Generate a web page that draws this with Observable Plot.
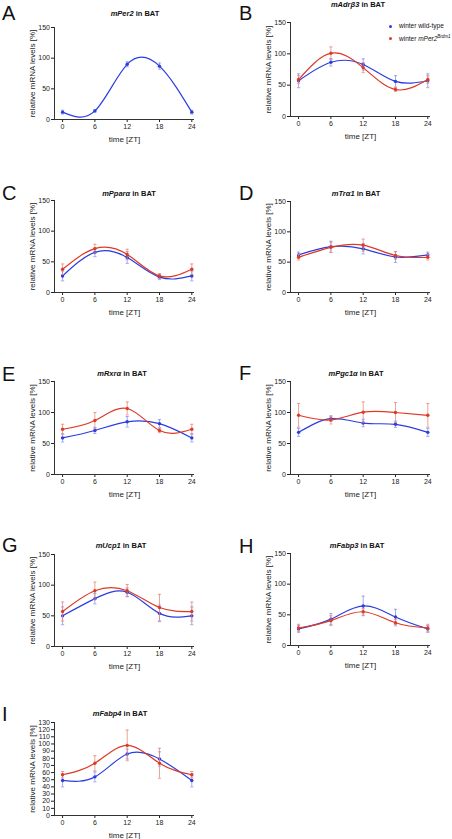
<!DOCTYPE html>
<html><head><meta charset="utf-8">
<script src="https://cdn.jsdelivr.net/npm/d3@7"></script>
<script src="https://cdn.jsdelivr.net/npm/@observablehq/plot@0.6"></script>
<style>
body{margin:0;background:#fff;}
#root{position:relative;width:452px;height:839px;overflow:hidden;font-family:"Liberation Sans",Arial,sans-serif;color:#111;}
.panel{position:absolute;}
.panel svg{overflow:visible;}
.panel svg g[aria-label="x-axis label"], .panel svg g[aria-label="y-axis label"]{font-size:8px;}
.txt{position:absolute;line-height:1;white-space:nowrap;}
.letter{font-size:20px;}
.title{font-size:7.5px;font-weight:bold;transform:translateX(-50%);}
.leg{font-size:6.5px;}
.dotk{position:absolute;width:3.4px;height:3.4px;border-radius:50%;}
</style></head>
<body><div id="root"></div>
<script>
// ---- data ----
const zt = [0, 6, 12, 18, 24];
const seriesNames = ["winter wild-type", "winter mPer2Brdm1"];
const genes = ["mPer2", "mAdrβ3", "mPparα", "mTrα1", "mRxrα", "mPgc1α", "mUcp1", "mFabp3", "mFabp4"];
const letters = ["A", "B", "C", "D", "E", "F", "G", "H", "I"];

const per2Wt = [12, 14, 90, 87, 12];
const per2WtSem = [3, 2, 4, 5, 3];

const adrb3Wt = [57, 86.5, 83, 56, 57];
const adrb3WtSem = [11, 6, 9, 9, 11];
const adrb3Mut = [59, 101, 78, 43, 59];
const adrb3MutSem = [6, 10, 8, 3, 6];

const pparaWt = [27, 65.5, 57, 25, 27];
const pparaWtSem = [8, 7, 9.5, 4, 8];
const pparaMut = [38, 71.5, 62, 27, 38];
const pparaMutSem = [8.5, 7, 8.5, 4, 8.5];

const tra1Wt = [62, 75.5, 72, 58.5, 62];
const tra1WtSem = [4.5, 9, 8.5, 9, 4.5];
const tra1Mut = [58, 74.5, 78, 61, 58];
const tra1MutSem = [4.5, 8.5, 10, 6, 4.5];

const rxraWt = [59, 71, 85, 82, 59];
const rxraWtSem = [6.5, 5, 8.5, 6.5, 6.5];
const rxraMut = [73, 87, 106.5, 71, 73];
const rxraMutSem = [8, 13, 10.5, 3.5, 8];

const pgc1aWt = [68, 90, 83, 81, 68];
const pgc1aWtSem = [6.5, 4, 6, 5, 6.5];
const pgc1aMut = [95.5, 88, 100.5, 100, 95.5];
const pgc1aMutSem = [19, 6.5, 16.5, 16, 19];

const ucp1Wt = [50, 78, 88.5, 54, 50];
const ucp1WtSem = [14.5, 8.5, 7, 13.5, 14.5];
const ucp1Mut = [57, 91, 91, 63.5, 57];
const ucp1MutSem = [15.5, 14, 10, 21.5, 15.5];

const fabp3Wt = [27, 43, 64.5, 46.5, 27];
const fabp3WtSem = [5.5, 9, 16, 12.5, 5.5];
const fabp3Mut = [28.5, 40.5, 55, 37, 28.5];
const fabp3MutSem = [6, 8, 5.5, 5, 6];

const fabp4Wt = [49, 54, 86, 79, 49];
const fabp4WtSem = [9, 7, 7, 10, 9];
const fabp4Mut = [57, 73, 98, 73, 57];
const fabp4MutSem = [4.5, 10.5, 21.5, 21, 4.5];

const yTicks150 = [0, 50, 100, 150];
const yTicks130 = [0, 10, 20, 30, 40, 50, 60, 70, 80, 90, 100, 110, 120, 130];
const xTicks = [0, 6, 12, 18, 24];

const panelData = [
  {wt: per2Wt, wtSem: per2WtSem},
  {wt: adrb3Wt, wtSem: adrb3WtSem, mut: adrb3Mut, mutSem: adrb3MutSem},
  {wt: pparaWt, wtSem: pparaWtSem, mut: pparaMut, mutSem: pparaMutSem},
  {wt: tra1Wt, wtSem: tra1WtSem, mut: tra1Mut, mutSem: tra1MutSem},
  {wt: rxraWt, wtSem: rxraWtSem, mut: rxraMut, mutSem: rxraMutSem},
  {wt: pgc1aWt, wtSem: pgc1aWtSem, mut: pgc1aMut, mutSem: pgc1aMutSem},
  {wt: ucp1Wt, wtSem: ucp1WtSem, mut: ucp1Mut, mutSem: ucp1MutSem},
  {wt: fabp3Wt, wtSem: fabp3WtSem, mut: fabp3Mut, mutSem: fabp3MutSem},
  {wt: fabp4Wt, wtSem: fabp4WtSem, mut: fabp4Mut, mutSem: fabp4MutSem, ymax: 130, yticks: yTicks130}
];

// ---- layout (pixels) ----
const colL = [0, 226];
const colMargins = [{ml: 54, mr: 32}, {ml: 64, mr: 22}];
const layout = [
  {col: 0, yTop: 27, yBot: 119, titleX: 135, titleY: 16.7, letterY: 20},
  {col: 1, yTop: 22, yBot: 116, titleX: 358, titleY: 7, letterY: 20},
  {col: 0, yTop: 200, yBot: 292, titleX: 129, titleY: 196.7, letterY: 200},
  {col: 1, yTop: 201, yBot: 292, titleX: 356, titleY: 196.7, letterY: 200},
  {col: 0, yTop: 381, yBot: 474, titleX: 122, titleY: 376.7, letterY: 381},
  {col: 1, yTop: 381, yBot: 474, titleX: 356, titleY: 376.7, letterY: 380},
  {col: 0, yTop: 554, yBot: 646, titleX: 121, titleY: 548.7, letterY: 552},
  {col: 1, yTop: 553, yBot: 645, titleX: 357, titleY: 548.7, letterY: 553},
  {col: 0, yTop: 722, yBot: 815, titleX: 120, titleY: 716.7, letterY: 721}
];
const letterX = [2, 239];
const blue = "#2b3de0", red = "#de3a26";
const blueErr = "#8593ee", redErr = "#e98b7c";
const mt = 8, mb = 28;
const xDomain = [-1.5, 24.5];

const capSymbol = {draw(ctx, size) { const w = Math.sqrt(size / Math.PI); ctx.moveTo(-w, 0); ctx.lineTo(w, 0); }};

const root = document.getElementById("root");

function addText(cls, html, left, baseline, fs) {
  const d = document.createElement("div");
  d.className = "txt " + cls;
  d.innerHTML = html;
  d.style.left = left + "px";
  d.style.top = (baseline - 0.8465 * fs) + "px";
  root.appendChild(d);
  return d;
}

function rowsFor(vals, sems, name) {
  return zt.map((t, i) => ({t, v: vals[i], lo: vals[i] - sems[i], hi: vals[i] + sems[i], s: name}));
}

function seriesMarks(rows, color, ecolor) {
  return [
    Plot.ruleX(rows, {x: "t", y1: "lo", y2: "hi", stroke: ecolor, strokeWidth: 0.8}),
    Plot.dot(rows, {x: "t", y: "lo", symbol: capSymbol, r: 1.6, stroke: ecolor, strokeWidth: 0.8, fill: "none"}),
    Plot.dot(rows, {x: "t", y: "hi", symbol: capSymbol, r: 1.6, stroke: ecolor, strokeWidth: 0.8, fill: "none"}),
    Plot.line(rows, {x: "t", y: "v", curve: "natural", stroke: color, strokeWidth: 1.2}),
    Plot.dot(rows, {x: "t", y: "v", r: 1.7, fill: color, stroke: "none"})
  ];
}

panelData.forEach((pd, k) => {
  const L = layout[k];
  const cm = colMargins[L.col];
  const ymax = pd.ymax || 150;
  const yticks = pd.yticks || yTicks150;
  const h = (L.yBot - L.yTop) + mt + mb;
  const marks = [
    Plot.ruleY([0], {stroke: "#333", strokeWidth: 1}),
    Plot.ruleX([xDomain[0]], {stroke: "#333", strokeWidth: 1}),
    ...seriesMarks(rowsFor(pd.wt, pd.wtSem, seriesNames[0]), blue, blueErr)
  ];
  if (pd.mut) marks.push(...seriesMarks(rowsFor(pd.mut, pd.mutSem, seriesNames[1]), red, redErr));
  const svg = Plot.plot({
    width: 226, height: h,
    marginLeft: cm.ml, marginRight: cm.mr, marginTop: mt, marginBottom: mb,
    style: {fontFamily: '"Liberation Sans", Arial, sans-serif', fontSize: "7px", background: "transparent", color: "#222", overflow: "visible"},
    x: {domain: xDomain, ticks: xTicks, tickSize: 3, tickPadding: 2, label: "time [ZT]", labelAnchor: "center", labelOffset: 22, labelArrow: "none"},
    y: {domain: [0, ymax], ticks: yticks, tickSize: 3, tickPadding: 1.5, label: "relative mRNA levels [%]", labelAnchor: "center", labelOffset: 25, labelArrow: "none"},
    marks
  });
  const div = document.createElement("div");
  div.className = "panel";
  div.style.left = colL[L.col] + "px";
  div.style.top = (L.yTop - mt) + "px";
  div.appendChild(svg);
  root.appendChild(div);

  addText("letter", letters[k], letterX[L.col], L.letterY, 20);
  addText("title", `<i>${genes[k]}</i> in BAT`, L.titleX, L.titleY, 7.5);
});

// legend (panel B)
const legItems = [
  {color: blue, html: "winter wild-type", y: 29},
  {color: red, html: "winter <i>mPer2</i><sup style='font-size:4.5px;vertical-align:3px'><i>Brdm1</i></sup>", y: 41}
];
legItems.forEach(it => {
  const dot = document.createElement("div");
  dot.className = "dotk";
  dot.style.background = it.color;
  dot.style.left = "388.5px";
  dot.style.top = (it.y - 3.9) + "px";
  root.appendChild(dot);
  addText("leg", it.html, 399, it.y, 6.5);
});
</script>
</body></html>
